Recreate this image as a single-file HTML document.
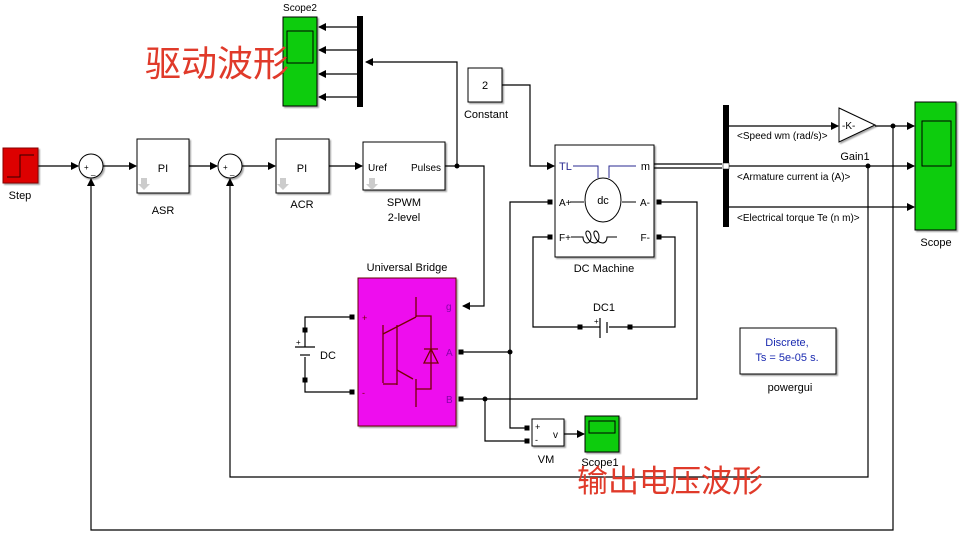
<!DOCTYPE html>
<html><head><meta charset="utf-8"><style>
body{margin:0;background:#fff}
svg{display:block;font-family:"Liberation Sans",sans-serif}
text{font-size:11px;fill:#000}
</style></head><body>
<svg width="960" height="544" viewBox="0 0 960 544" xmlns="http://www.w3.org/2000/svg">
<defs>
<marker id="a" markerWidth="8" markerHeight="8" refX="7" refY="4" orient="auto" markerUnits="userSpaceOnUse"><path d="M0,0 L8,4 L0,8z" fill="#000"/></marker>
<filter id="s"><feDropShadow dx="1.5" dy="1.5" stdDeviation="0.8" flood-opacity="0.35"/></filter>
</defs>
<g fill="none" stroke="#000" stroke-width="1.2">
<line x1="38" y1="166" x2="78" y2="166" marker-end="url(#a)"/>
<line x1="103" y1="166" x2="136" y2="166" marker-end="url(#a)"/>
<line x1="189" y1="166" x2="217" y2="166" marker-end="url(#a)"/>
<line x1="242" y1="166" x2="275" y2="166" marker-end="url(#a)"/>
<line x1="329" y1="166" x2="362" y2="166" marker-end="url(#a)"/>
<polyline points="445,166 484,166 484,306 463,306" marker-end="url(#a)"/>
<polyline points="457,166 457,62 366,62" marker-end="url(#a)"/>
<line x1="357" y1="27" x2="319" y2="27" marker-end="url(#a)"/>
<line x1="357" y1="50" x2="319" y2="50" marker-end="url(#a)"/>
<line x1="357" y1="74" x2="319" y2="74" marker-end="url(#a)"/>
<line x1="357" y1="97" x2="319" y2="97" marker-end="url(#a)"/>
<polyline points="502,85 530,85 530,166 554,166" marker-end="url(#a)"/>
<line x1="654" y1="164" x2="722" y2="164"/><line x1="654" y1="168" x2="722" y2="168"/>
<line x1="729" y1="126" x2="838" y2="126" marker-end="url(#a)"/>
<line x1="875" y1="126" x2="914" y2="126" marker-end="url(#a)"/>
<line x1="729" y1="166" x2="914" y2="166" marker-end="url(#a)"/>
<line x1="729" y1="207" x2="914" y2="207" marker-end="url(#a)"/>
<polyline points="868,166 868,477 230,477 230,179" marker-end="url(#a)"/>
<polyline points="893,126 893,530 91,530 91,179" marker-end="url(#a)"/>
<polyline points="550,202 510,202 510,428 527,428"/>
<line x1="461" y1="352" x2="510" y2="352"/>
<polyline points="550,237 533,237 533,327 580,327"/>
<polyline points="659,202 697,202 697,399 461,399"/>
<polyline points="485,399 485,441 527,441"/>
<polyline points="659,237 675,237 675,327 630,327"/>
<polyline points="352,317 305,317 305,330"/>
<polyline points="352,392 305,392 305,380"/>
<line x1="305" y1="330" x2="305" y2="347"/><line x1="305" y1="357" x2="305" y2="380"/>
<line x1="295" y1="347" x2="315" y2="347"/><line x1="300" y1="355" x2="310" y2="355"/>
<line x1="580" y1="327" x2="600" y2="327"/><line x1="609" y1="327" x2="630" y2="327"/>
<line x1="600" y1="318" x2="600" y2="338"/><line x1="607" y1="322" x2="607" y2="333"/>
<line x1="564" y1="434" x2="584" y2="434" marker-end="url(#a)"/>
</g>
<g fill="#000">
<circle cx="457" cy="166" r="2.5"/><circle cx="868" cy="166" r="2.5"/><circle cx="893" cy="126" r="2.5"/>
<circle cx="510" cy="352" r="2.5"/><circle cx="485" cy="399" r="2.5"/>
<rect x="357" y="16" width="6" height="91"/><rect x="723" y="105" width="6" height="122"/>
</g>
<rect x="723" y="163" width="6" height="6" fill="#fff" stroke="#000" stroke-width="0.5"/>
<rect x="3" y="148" width="35" height="35" fill="#dd0000" stroke="#800" filter="url(#s)"/>
<polyline points="7,177 20,177 20,155 34,155" fill="none" stroke="#300" stroke-width="1"/>
<text x="20" y="199" text-anchor="middle">Step</text>
<circle cx="91" cy="166" r="12" fill="#fff" stroke="#000" filter="url(#s)"/>
<text x="84" y="170" style="font-size:8px">+</text><text x="91" y="174" style="font-size:8px">_</text>
<circle cx="230" cy="166" r="12" fill="#fff" stroke="#000" filter="url(#s)"/>
<text x="223" y="170" style="font-size:8px">+</text><text x="230" y="174" style="font-size:8px">_</text>
<rect x="137" y="139" width="52" height="54" fill="#fff" stroke="#000" filter="url(#s)"/>
<text x="163" y="172" text-anchor="middle">PI</text><text x="163" y="214" text-anchor="middle">ASR</text>
<rect x="276" y="139" width="53" height="54" fill="#fff" stroke="#000" filter="url(#s)"/>
<text x="302" y="172" text-anchor="middle">PI</text><text x="302" y="208" text-anchor="middle">ACR</text>
<rect x="363" y="142" width="82" height="48" fill="#fff" stroke="#000" filter="url(#s)"/>
<text x="368" y="171" style="font-size:10px">Uref</text><text x="441" y="171" text-anchor="end" style="font-size:10px">Pulses</text>
<text x="404" y="206" text-anchor="middle">SPWM</text><text x="404" y="221" text-anchor="middle">2-level</text>
<g fill="#ccc"><path d="M141,178h6v6h3l-6,6l-6,-6h3z"/><path d="M280,178h6v6h3l-6,6l-6,-6h3z"/><path d="M369,178h6v6h3l-6,6l-6,-6h3z"/><path d="M744,361h6v6h3l-6,6l-6,-6h3z"/></g>
<rect x="283" y="17" width="34" height="89" fill="#11cc11" stroke="#000" filter="url(#s)"/>
<rect x="287" y="31" width="26" height="32" fill="none" stroke="#000"/>
<text x="300" y="11" text-anchor="middle" style="font-size:10px">Scope2</text>
<text x="145" y="76" style="font-size:36px;fill:#e03a2a;font-family:'Noto Sans CJK SC',sans-serif">驱动波形</text>
<rect x="468" y="68" width="34" height="34" fill="#fff" stroke="#000" filter="url(#s)"/>
<text x="485" y="89" text-anchor="middle">2</text><text x="486" y="118" text-anchor="middle">Constant</text>
<rect x="555" y="145" width="99" height="112" fill="#fff" stroke="#000" filter="url(#s)"/>
<text x="559" y="170" style="fill:#2a2a90">TL</text><text x="650" y="170" text-anchor="end">m</text>
<polyline points="573,166 598,166 598,178" fill="none" stroke="#2a2a90"/><polyline points="636,166 609,166 609,178" fill="none" stroke="#2a2a90"/>
<ellipse cx="603" cy="200" rx="18" ry="22" fill="#fff" stroke="#000"/>
<text x="603" y="204" text-anchor="middle">dc</text>
<line x1="570" y1="202" x2="584" y2="202" stroke="#000"/><line x1="622" y1="202" x2="636" y2="202" stroke="#000"/>
<text x="559" y="206" style="font-size:10px">A+</text><text x="650" y="206" text-anchor="end" style="font-size:10px">A-</text>
<text x="559" y="241" style="font-size:10px">F+</text><text x="650" y="241" text-anchor="end" style="font-size:10px">F-</text>
<path d="M571,237h12 c0,8 8,8 8,0 c0,-8 -8,-8 -4,0 c4,8 12,8 12,0 c0,-8 -8,-8 -4,0 c4,8 12,8 12,0 h10" fill="none" stroke="#000"/>
<text x="604" y="272" text-anchor="middle">DC Machine</text>
<g fill="#000" stroke="#000"><rect x="548" y="200" width="4" height="4"/><rect x="657" y="200" width="4" height="4"/><rect x="548" y="235" width="4" height="4"/><rect x="657" y="235" width="4" height="4"/>
<rect x="578" y="325" width="4" height="4"/><rect x="628" y="325" width="4" height="4"/>
<rect x="350" y="315" width="4" height="4"/><rect x="350" y="390" width="4" height="4"/><rect x="303" y="328" width="4" height="4"/><rect x="303" y="378" width="4" height="4"/>
<rect x="459" y="350" width="4" height="4"/><rect x="459" y="397" width="4" height="4"/><rect x="525" y="426" width="4" height="4"/><rect x="525" y="439" width="4" height="4"/></g>
<text x="604" y="311" text-anchor="middle">DC1</text><text x="594" y="324" style="font-size:8px">+</text>
<text x="320" y="359">DC</text><text x="296" y="345" style="font-size:8px">+</text>
<rect x="358" y="278" width="98" height="148" fill="#ee11ee" stroke="#600" filter="url(#s)"/>
<text x="407" y="271" text-anchor="middle">Universal Bridge</text>
<g fill="none" stroke="#700" stroke-width="1.3">
<line x1="416" y1="297" x2="416" y2="317"/><line x1="416" y1="317" x2="383" y2="334"/><line x1="383" y1="325" x2="383" y2="383"/>
<line x1="397" y1="325" x2="397" y2="385"/><line x1="383" y1="384" x2="397" y2="384"/><line x1="397" y1="370" x2="413" y2="379"/>
<line x1="416" y1="379" x2="416" y2="407"/><polyline points="416,316 431,316 431,389 416,389"/>
<path d="M424,363h14l-7,-14z M424,349h14"/>
</g>
<text x="446" y="310" style="font-size:10px;fill:#8800aa">g</text><text x="446" y="356" style="font-size:10px;fill:#8800aa">A</text><text x="446" y="403" style="font-size:10px;fill:#8800aa">B</text>
<text x="362" y="321" style="font-size:9px;fill:#700">+</text><text x="362" y="396" style="font-size:9px;fill:#700">-</text>
<rect x="532" y="419" width="32" height="27" fill="#fff" stroke="#000" filter="url(#s)"/>
<text x="535" y="430" style="font-size:9px">+</text><text x="535" y="443" style="font-size:9px">-</text><text x="553" y="438" style="font-size:10px">v</text>
<text x="546" y="463" text-anchor="middle">VM</text>
<rect x="585" y="416" width="34" height="36" fill="#11cc11" stroke="#000" filter="url(#s)"/>
<rect x="589" y="421" width="26" height="12" fill="none" stroke="#000"/>
<text x="600" y="466" text-anchor="middle">Scope1</text>
<text x="577" y="492" style="font-size:31px;fill:#e03a2a;font-family:'Noto Sans CJK SC',sans-serif">输出电压波形</text>
<path d="M839,108 L875,125 L839,142z" fill="#fff" stroke="#000" filter="url(#s)"/>
<text x="842" y="129" style="font-size:10px">-K-</text><text x="855" y="160" text-anchor="middle">Gain1</text>
<text x="737" y="139" style="font-size:10px">&lt;Speed wm (rad/s)&gt;</text>
<text x="737" y="180" style="font-size:10px">&lt;Armature current ia (A)&gt;</text>
<text x="737" y="221" style="font-size:10px">&lt;Electrical torque Te (n m)&gt;</text>
<rect x="915" y="102" width="41" height="128" fill="#11cc11" stroke="#000" filter="url(#s)"/>
<rect x="922" y="121" width="29" height="45" fill="none" stroke="#000"/>
<text x="936" y="246" text-anchor="middle">Scope</text>
<rect x="740" y="328" width="96" height="46" fill="#fff" stroke="#000" filter="url(#s)"/>
<text x="787" y="346" text-anchor="middle" style="fill:#1a2ab0">Discrete,</text>
<text x="787" y="361" text-anchor="middle" style="fill:#1a2ab0">Ts = 5e-05 s.</text>
<text x="790" y="391" text-anchor="middle">powergui</text>
</svg>
</body></html>
